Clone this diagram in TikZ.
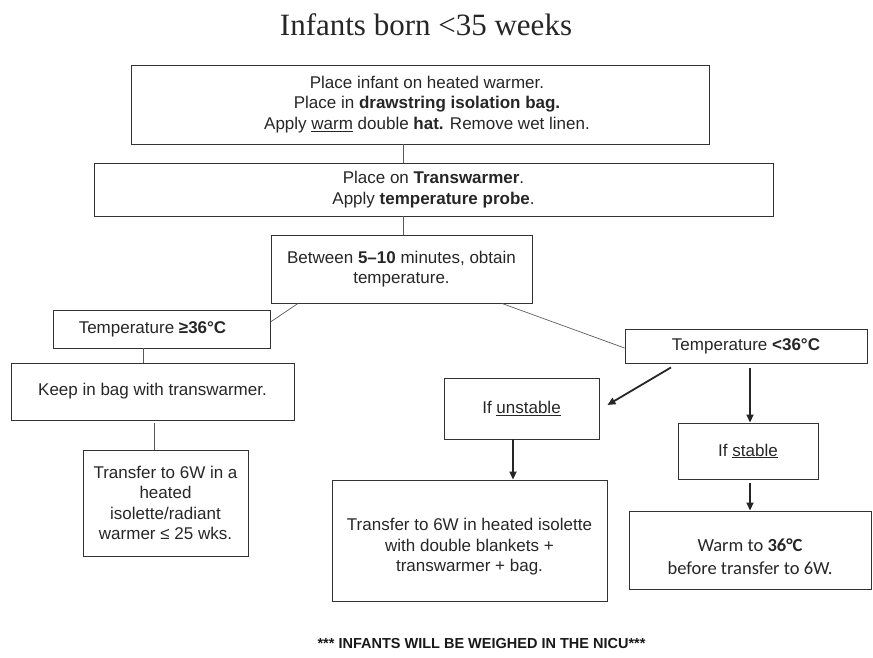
\documentclass[tikz,border=0pt]{standalone}
\usepackage{fontspec}
\setmainfont{Liberation Sans}
\newfontfamily\titlefont{Liberation Serif}
\newfontfamily\calfont{Carlito}
\usetikzlibrary{arrows.meta}

\begin{document}
\begin{tikzpicture}[x=1pt,y=-1pt,
        box/.style={draw=black!80, line width=0.9pt, align=center, inner sep=0pt,
            text=black!85, font=\fontsize{17}{20.5}\selectfont},
        link/.style={draw=black!65, line width=0.7pt},
        flow/.style={draw=black!85, line width=1.8pt, -{Triangle[length=8pt,width=7pt]}}]
            \useasboundingbox (0,0) rectangle (873,658);
            \node (title) [anchor=base, text=black!85, font=\titlefont\fontsize{31}{31}\selectfont] at (426,36) {Infants born <35 weeks};

            \node (warmer) [box, minimum width=578pt, minimum height=79pt] at (420,104.5)
                {\hspace*{14pt}Place infant on heated warmer.\\ \hspace*{14pt}Place in \textbf{drawstring isolation bag.}\\ \hspace*{14pt}Apply \underline{warm} double \textbf{hat.} Remove wet linen.};
            \node (probe) [box, minimum width=679pt, minimum height=53pt] at (433.5,189.5)
                {Place on \textbf{Transwarmer}.\\ Apply \textbf{temperature probe}.};
            \node (obtain) [box, minimum width=261pt, minimum height=68pt] at (401.5,269)
                {Between \textbf{5–10} minutes, obtain\\ temperature.};
            \node (hi) [box, minimum width=217pt, minimum height=38pt] at (161.5,329) {Temperature \textbf{≥36°C}\hspace*{18pt}};
            \node (lo) [box, minimum width=242pt, minimum height=34pt] at (746,346) {Temperature \textbf{<36°C}};
            \node (keep) [box, minimum width=283pt, minimum height=57pt] at (152.5,391.5) {Keep in bag with transwarmer.};
            \node (leftxfer) [box, minimum width=165pt, minimum height=106pt] at (165.5,503)
                {Transfer to 6W in a\\ heated\\ isolette/radiant\\ warmer ≤ 25 wks.};
            \node (unstable) [box, minimum width=155pt, minimum height=61pt] at (521.5,408.5) {If \underline{unstable}};
            \node (stable) [box, minimum width=140pt, minimum height=56pt] at (748,451) {If \underline{stable}};
            \node (midxfer) [box, minimum width=275pt, minimum height=121pt] at (469.5,540.5)
                {\rule{0pt}{25pt}Transfer to 6W in heated isolette\\ with double blankets +\\ transwarmer + bag.};
            \node (warm) [box, minimum width=242pt, minimum height=78pt, font=\calfont\fontsize{18.5}{23}\selectfont] at (750,550)
                {\rule{0pt}{26pt}Warm to \textbf{36°C}\\ before transfer to 6W.};
            \node (note) [anchor=base, text=black!90, font=\bfseries\fontsize{14.5}{14.5}\selectfont] at (481.5,648)
                {*** INFANTS WILL BE WEIGHED IN THE NICU***};

            \draw[link] ([xshift=-17pt]warmer.south) -- ([xshift=-30.5pt]probe.north);
            \draw[link] ([xshift=-30.5pt]probe.south) -- ([xshift=1.5pt]obtain.north);
            \draw[link] ([xshift=-103.5pt]obtain.south) -- ([yshift=7pt]hi.east);
            \draw[link] ([xshift=100.5pt]obtain.south) -- ([yshift=-2pt]lo.west);
            \draw[link] ([xshift=-18.5pt]hi.south) -- ([xshift=-9.5pt]keep.north);
            \draw[link] ([xshift=1.5pt,yshift=-3pt]keep.south) -- ([xshift=-11.5pt]leftxfer.north);

            \draw[flow] ([xshift=-75pt,yshift=-4pt]lo.south) -- ([xshift=8pt,yshift=3.5pt]unstable.east);
            \draw[flow] ([xshift=4pt,yshift=-5pt]lo.south) -- ([xshift=2pt]stable.north);
            \draw[flow] ([xshift=-8.5pt]unstable.south) -- ([xshift=43.5pt]midxfer.north);
            \draw[flow] ([xshift=2pt,yshift=-4pt]stable.south) -- (warm.north);
        \end{tikzpicture}
\end{document}
